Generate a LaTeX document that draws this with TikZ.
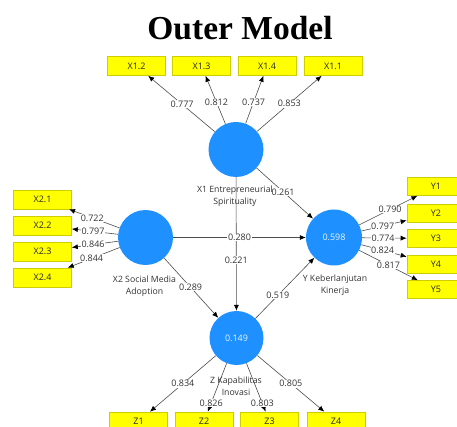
\documentclass[tikz,border=0pt]{standalone}
\usepackage{fontspec}
\setmainfont{Open Sans}
\newfontfamily\titlefont{Liberation Serif}
\usetikzlibrary{arrows.meta}
\definecolor{plsblue}{RGB}{30,144,255}
\definecolor{boxyellow}{RGB}{255,255,0}
\definecolor{boxedge}{RGB}{205,205,0}
\begin{document}
\begin{tikzpicture}[x=1pt,y=-1pt,
 lv/.style={circle,fill=plsblue,minimum size=55pt,inner sep=0pt,text=white!92!plsblue,font=\fontsize{9}{10}\selectfont},
 ind/.style={rectangle,fill=boxyellow,draw=boxedge,line width=0.6pt,minimum width=58pt,minimum height=19pt,inner sep=0pt,font=\fontsize{9}{10}\selectfont,text=black!85},
 arr/.style={draw=black!70,line width=0.6pt,-{Latex[length=6pt,width=5pt,color=black]}},
 lbl/.style={fill=white,inner sep=0.6pt,font=\fontsize{9}{10}\selectfont,text=black!80},
 lvname/.style={align=center,font=\fontsize{8.7}{11.5}\selectfont,text=black!80,inner sep=0pt}]
\useasboundingbox (0,0) rectangle (457,427);
\clip (0,0) rectangle (457,427);
% title
\node[anchor=base,inner sep=0pt,font=\titlefont\bfseries\fontsize{33.5}{36}\selectfont] (title) at (240,40) {Outer Model};
% latent variables
\node[lv] (X1) at (236,149.5) {};
\node[lv] (X2) at (145.5,237.5) {};
\node[lv,minimum size=56pt] (Y) at (334,237.5) {0.598};
\node[lv,minimum size=54pt] (Z) at (236.5,338) {0.149};
% indicators X1
\node[ind] (X12) at (136.5,66) {X1.2};
\node[ind] (X13) at (201.5,66) {X1.3};
\node[ind] (X14) at (267,66) {X1.4};
\node[ind] (X11) at (333,66) {X1.1};
% indicators X2
\node[ind] (X21) at (42.5,199.5) {X2.1};
\node[ind] (X22) at (42.5,225.5) {X2.2};
\node[ind] (X23) at (42.5,251.5) {X2.3};
\node[ind] (X24) at (42.5,277.5) {X2.4};
% indicators Y
\node[ind,minimum height=18pt] (Y1) at (436,186.5) {Y1};
\node[ind,minimum height=18pt] (Y2) at (436,213.5) {Y2};
\node[ind,minimum height=18pt] (Y3) at (436,238.5) {Y3};
\node[ind,minimum height=18pt] (Y4) at (436,264.5) {Y4};
\node[ind,minimum height=18pt] (Y5) at (436,289.5) {Y5};
% indicators Z
\node[ind] (Z1) at (138.5,421.5) {Z1};
\node[ind] (Z2) at (204,421.5) {Z2};
\node[ind] (Z3) at (269.5,421.5) {Z3};
\node[ind] (Z4) at (336,421.5) {Z4};
% outer loadings X1
\draw[arr] (X1) -- node[lbl,pos=.49]{0.777} (X12);
\draw[arr] (X1) -- node[lbl,pos=.45]{0.812} (X13);
\draw[arr] (X1) -- node[lbl,pos=.45]{0.737} (X14);
\draw[arr] (X1) -- node[lbl,pos=.5]{0.853} (X11);
% outer loadings X2
\draw[arr] (X2) -- node[lbl,pos=.54]{0.722} (X21);
\draw[arr] (X2) -- node[lbl,pos=.54]{0.797} (X22);
\draw[arr] (X2) -- node[lbl,pos=.54]{0.846} (X23);
\draw[arr] (X2) -- node[lbl,pos=.54]{0.844} (X24);
% outer loadings Y
\draw[arr] (Y) -- node[lbl,pos=.53]{0.790} (Y1);
\draw[arr] (Y) -- node[lbl,pos=.47]{0.797} (Y2);
\draw[arr] (Y) -- node[lbl,pos=.47]{0.774} (Y3);
\draw[arr] (Y) -- node[lbl,pos=.47]{0.824} (Y4);
\draw[arr] (Y) -- node[lbl,pos=.5]{0.817} (Y5);
% outer loadings Z
\draw[arr] (Z) -- node[lbl,pos=.5]{0.834} (Z1);
\draw[arr] (Z) -- node[lbl,pos=.82]{0.826} (Z2);
\draw[arr] (Z) -- node[lbl,pos=.83]{0.803} (Z3);
\draw[arr] (Z) -- node[lbl,pos=.5]{0.805} (Z4);
% inner paths
\draw[arr] (X1) -- node[lbl,pos=.62]{0.221} (Z);
\draw[arr] (X2) -- node[lbl,pos=.5]{0.280} (Y);
\draw[arr] (X1) -- node[lbl,pos=.47]{0.261} (Y);
\draw[arr] (X2) -- node[lbl,pos=.49]{0.289} (Z);
\draw[arr] (Z) -- node[lbl,pos=.38]{0.519} (Y);
% construct names
\node[lvname] (X1n) at (235,196) {X1 Entrepreneurial\\Spirituality};
\node[lvname] (X2n) at (144.5,286) {X2 Social Media\\Adoption};
\node[lvname] (Yn) at (335,285) {Y Keberlanjutan\\Kinerja};
\node[lvname] (Zn) at (236,386) {Z Kapabilitas\\Inovasi};
\end{tikzpicture}
\end{document}
